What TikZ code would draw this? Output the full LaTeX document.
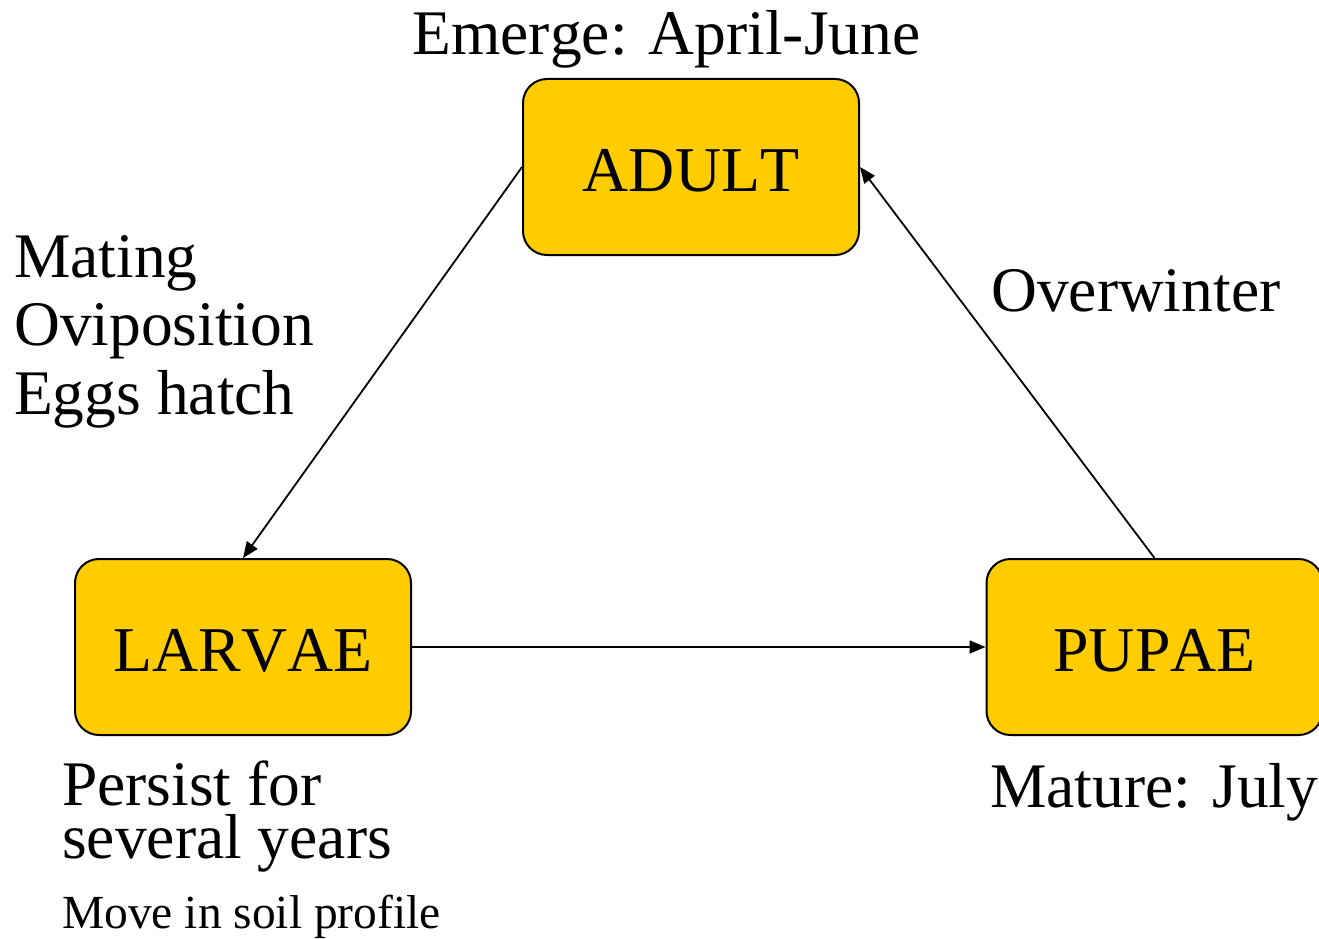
\documentclass[tikz,border=0pt]{standalone}
\usepackage{fontspec}
\setmainfont{Liberation Serif}[Kerning=Off]
\usetikzlibrary{arrows.meta}
\definecolor{boxyellow}{HTML}{FFCC00}
\begin{document}
\begin{tikzpicture}[x=1pt,y=-1pt,
  stage/.style={draw=black, line width=2pt, fill=boxyellow, rounded corners=24pt,
    minimum width=336pt, minimum height=176pt, inner sep=0pt,
    font=\fontsize{63.8}{68}\selectfont, text height=48pt, text depth=0pt},
  lbl/.style={inner sep=0pt, anchor=base west, font=\fontsize{63.5}{68}\selectfont},
  small/.style={inner sep=0pt, anchor=base west, font=\fontsize{47.5}{52}\selectfont},
  conn/.style={line width=1.8pt, -{Triangle[length=16pt,width=13pt]}}]
\useasboundingbox (0,0) rectangle (1319,939);

\node[stage] (adult) at (691,167) {ADULT};
\node[stage] (larvae) at (243,647) {LARVAE};
\node[stage] (pupae) at (1154.5,647) {PUPAE};

\draw[conn] (adult.west) -- (larvae.north);
\draw[conn] (larvae.east) -- (pupae.west);
\draw[conn] (pupae.north) -- (adult.east);

\node[lbl, anchor=base] (emerge) at (666.5,55) {Emerge: April-June};
\node[lbl] (mating) at (14,277) {Mating};
\node[lbl] (ovi) at (14,345.5) {Oviposition};
\node[lbl] (eggs) at (14,414) {Eggs hatch};
\node[lbl] (winter) at (991,311) {Overwinter};
\node[lbl] (persist) at (62,805) {Persist for};
\node[lbl] (several) at (62,858) {several years};
\node[small] (move) at (62,928) {Move in soil profile};
\node[lbl] (mature) at (990,807) {Mature: July};
\end{tikzpicture}
\end{document}
